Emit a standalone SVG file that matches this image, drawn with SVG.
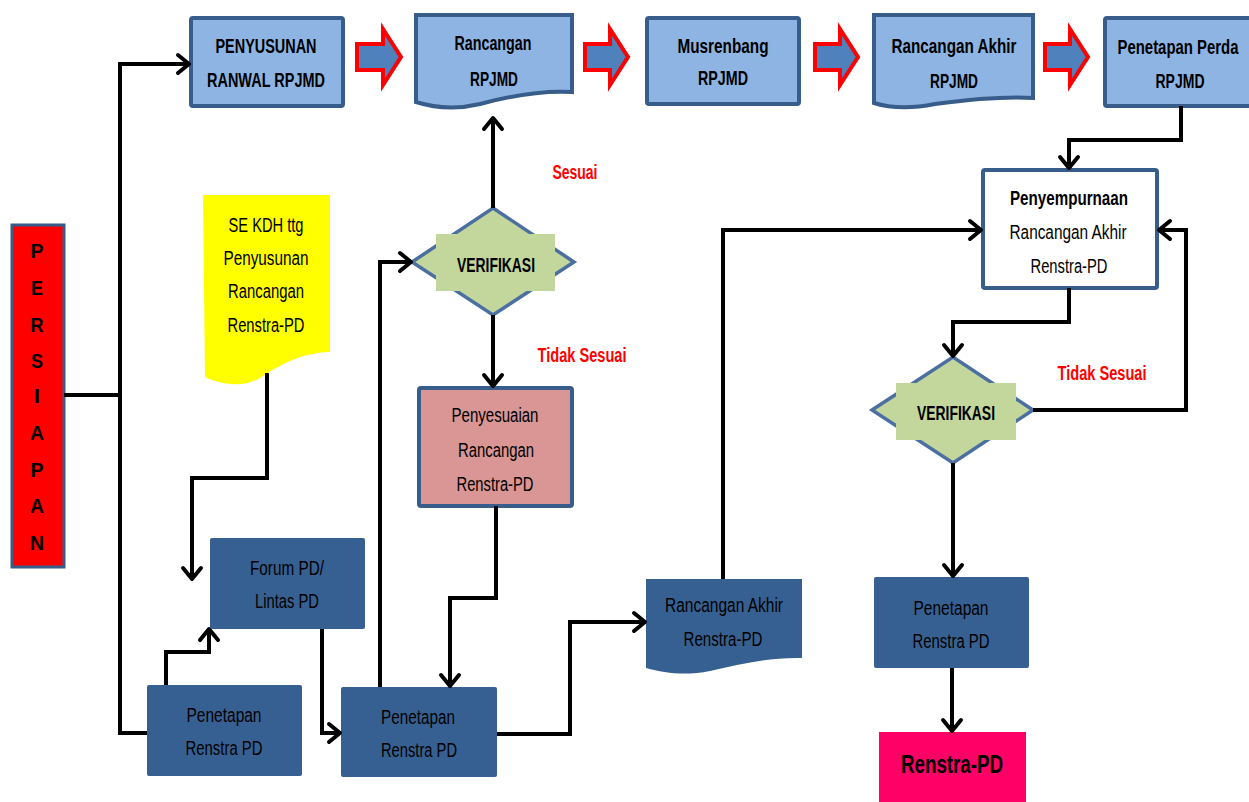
<svg xmlns="http://www.w3.org/2000/svg" width="1249" height="802" viewBox="0 0 1249 802">
<defs>
<style>
text{font-family:"Liberation Sans",Arial,sans-serif;text-anchor:middle;fill:#000}
.t{font-size:20px}
.b{font-weight:bold}
.red{fill:#FF0000;font-weight:bold;font-size:20px}
.lb{fill:#8EB4E3;stroke:#385D8A;stroke-width:4}
.db{fill:#376092}
.blk{fill:#4F81BD;stroke:#FF0000;stroke-width:4}
.dia{fill:#C3D69B;stroke:#4A6FA0;stroke-width:3.5}
.con{fill:none;stroke:#000;stroke-width:4}
</style>
<marker id="ah" markerUnits="userSpaceOnUse" viewBox="-16 -14 20 28" markerWidth="20" markerHeight="28" refX="0" refY="0" orient="auto">
<path d="M-11,-9 L0,0 L-11,9" fill="none" stroke="#000" stroke-width="4" stroke-linejoin="round" stroke-linecap="round"/>
</marker>
</defs>
<rect width="1249" height="802" fill="#fff"/>

<g id="persiapan">
<rect x="12" y="225" width="52" height="342" fill="#FF0000" stroke="#385D8A" stroke-width="3"/>
<g class="b" style="font-size:21px">
<text x="37" y="258" textLength="13" lengthAdjust="spacingAndGlyphs">P</text><text x="37" y="295" textLength="12" lengthAdjust="spacingAndGlyphs">E</text><text x="37" y="332" textLength="13" lengthAdjust="spacingAndGlyphs">R</text><text x="37" y="368" textLength="12" lengthAdjust="spacingAndGlyphs">S</text><text x="37" y="403">I</text><text x="37" y="440" textLength="14" lengthAdjust="spacingAndGlyphs">A</text><text x="37" y="477" textLength="13" lengthAdjust="spacingAndGlyphs">P</text><text x="37" y="513" textLength="14" lengthAdjust="spacingAndGlyphs">A</text><text x="37" y="550" textLength="14" lengthAdjust="spacingAndGlyphs">N</text>
</g>
</g>

<g id="penyusunan-ranwal">
<rect class="lb" x="191" y="18" width="152" height="88" rx="2"/>
<text class="t b" x="266" y="53" textLength="101" lengthAdjust="spacingAndGlyphs">PENYUSUNAN</text>
<text class="t b" x="266" y="87" textLength="118" lengthAdjust="spacingAndGlyphs">RANWAL RPJMD</text>
</g>

<g id="rancangan-rpjmd">
<path class="lb" d="M416,15 H572 V92 C540,90 510,96 480,104 C455,110 435,108 416,102 Z"/>
<text class="t b" x="493" y="50" textLength="77" lengthAdjust="spacingAndGlyphs">Rancangan</text>
<text class="t b" x="494" y="86" textLength="48" lengthAdjust="spacingAndGlyphs">RPJMD</text>
</g>

<g id="musrenbang">
<rect class="lb" x="647" y="18" width="152" height="86" rx="2"/>
<text class="t b" x="723" y="53" textLength="91" lengthAdjust="spacingAndGlyphs">Musrenbang</text>
<text class="t b" x="723" y="85" textLength="50" lengthAdjust="spacingAndGlyphs">RPJMD</text>
</g>

<g id="rancangan-akhir-rpjmd">
<path class="lb" d="M874,15 H1033 V98 C1000,96 965,100 935,104 C910,109 890,108 874,103 Z"/>
<text class="t b" x="954" y="53" textLength="125" lengthAdjust="spacingAndGlyphs">Rancangan  Akhir</text>
<text class="t b" x="954" y="88" textLength="48" lengthAdjust="spacingAndGlyphs">RPJMD</text>
</g>

<g id="penetapan-perda">
<rect class="lb" x="1105" y="18" width="160" height="88" rx="2"/>
<text class="t b" x="1178" y="54" textLength="121" lengthAdjust="spacingAndGlyphs">Penetapan Perda</text>
<text class="t b" x="1180" y="88" textLength="49" lengthAdjust="spacingAndGlyphs">RPJMD</text>
</g>

<g id="block-arrows">
<path class="blk" d="M357,44 H383 V29 L401,57 L383,85 V70 H357 Z"/>
<path class="blk" d="M585,44 H610 V29 L628,57 L610,85 V70 H585 Z"/>
<path class="blk" d="M815,44 H840 V29 L858,57 L840,85 V70 H815 Z"/>
<path class="blk" d="M1045,44 H1070 V29 L1088,57 L1070,85 V70 H1045 Z"/>
</g>

<g id="se-kdh">
<path d="M203,195 H330 V352 C300,353 280,365 260,378 C245,387 225,386 205,377 Z" fill="#FFFF00"/>
<text class="t" x="266" y="232" textLength="75" lengthAdjust="spacingAndGlyphs">SE KDH ttg</text>
<text class="t" x="266" y="265" textLength="85" lengthAdjust="spacingAndGlyphs">Penyusunan</text>
<text class="t" x="266" y="298" textLength="76" lengthAdjust="spacingAndGlyphs">Rancangan</text>
<text class="t" x="266" y="332" textLength="77" lengthAdjust="spacingAndGlyphs">Renstra-PD</text>
</g>

<g id="verifikasi-1">
<path class="dia" d="M412,262 L493,208 L574,262 L493,315 Z"/>
<rect x="436" y="234" width="119" height="57" fill="#C3D69B"/>
<text class="t b" x="496" y="272" textLength="78" lengthAdjust="spacingAndGlyphs">VERIFIKASI</text>
</g>

<g id="penyesuaian">
<rect x="419" y="388" width="153" height="118" fill="#D99694" stroke="#385D8A" stroke-width="4" rx="2"/>
<text class="t" x="495" y="422" textLength="87" lengthAdjust="spacingAndGlyphs">Penyesuaian</text>
<text class="t" x="496" y="457" textLength="76" lengthAdjust="spacingAndGlyphs">Rancangan</text>
<text class="t" x="495" y="491" textLength="77" lengthAdjust="spacingAndGlyphs">Renstra-PD</text>
</g>

<g id="forum-pd">
<rect class="db" x="210" y="538" width="155" height="91" rx="2"/>
<text class="t" x="287" y="575" textLength="74" lengthAdjust="spacingAndGlyphs">Forum PD/</text>
<text class="t" x="287" y="608" textLength="64" lengthAdjust="spacingAndGlyphs">Lintas PD</text>
</g>

<g id="penetapan-renstra-1">
<rect class="db" x="147" y="685" width="155" height="91" rx="2"/>
<text class="t" x="224" y="722" textLength="75" lengthAdjust="spacingAndGlyphs">Penetapan</text>
<text class="t" x="224" y="755" textLength="77" lengthAdjust="spacingAndGlyphs">Renstra PD</text>
</g>

<g id="penetapan-renstra-2">
<rect class="db" x="341" y="687" width="156" height="90" rx="2"/>
<text class="t" x="418" y="724" textLength="74" lengthAdjust="spacingAndGlyphs">Penetapan</text>
<text class="t" x="419" y="757" textLength="76" lengthAdjust="spacingAndGlyphs">Renstra PD</text>
</g>

<g id="rancangan-akhir-renstra">
<path class="db" d="M646,579 H802 V658 C770,657 740,664 710,671 C685,676 665,673 646,668 Z"/>
<text class="t" x="724" y="612" textLength="118" lengthAdjust="spacingAndGlyphs">Rancangan Akhir</text>
<text class="t" x="723" y="646" textLength="79" lengthAdjust="spacingAndGlyphs">Renstra-PD</text>
</g>

<g id="penyempurnaan">
<rect x="983" y="170" width="174" height="118" fill="#fff" stroke="#385D8A" stroke-width="4" rx="2"/>
<text class="t b" x="1069" y="205" textLength="118" lengthAdjust="spacingAndGlyphs">Penyempurnaan</text>
<text class="t" x="1068" y="239" textLength="117" lengthAdjust="spacingAndGlyphs">Rancangan Akhir</text>
<text class="t" x="1069" y="273" textLength="77" lengthAdjust="spacingAndGlyphs">Renstra-PD</text>
</g>

<g id="verifikasi-2">
<path class="dia" d="M872,410 L953,357 L1033,410 L953,463 Z"/>
<rect x="896" y="383" width="120" height="57" fill="#C3D69B"/>
<text class="t b" x="956" y="420" textLength="78" lengthAdjust="spacingAndGlyphs">VERIFIKASI</text>
</g>

<g id="penetapan-renstra-3">
<rect class="db" x="874" y="577" width="155" height="91" rx="2"/>
<text class="t" x="951" y="615" textLength="75" lengthAdjust="spacingAndGlyphs">Penetapan</text>
<text class="t" x="951" y="648" textLength="77" lengthAdjust="spacingAndGlyphs">Renstra PD</text>
</g>

<g id="renstra-pd">
<rect x="879" y="732" width="147" height="80" fill="#FF0066"/>
<text class="b" style="font-size:25px" x="952" y="773" textLength="102" lengthAdjust="spacingAndGlyphs">Renstra-PD</text>
</g>

<g id="labels">
<text class="red" x="575" y="179" textLength="45" lengthAdjust="spacingAndGlyphs">Sesuai</text>
<text class="red" x="582" y="362" textLength="89" lengthAdjust="spacingAndGlyphs">Tidak Sesuai</text>
<text class="red" x="1102" y="380" textLength="89" lengthAdjust="spacingAndGlyphs">Tidak Sesuai</text>
</g>

<g id="connectors">
<path class="con" d="M64,395 H120"/>
<path class="con" d="M147,733 H120 V64 H189" marker-end="url(#ah)"/>
<path class="con" d="M267,373 V478 H192 V579" marker-end="url(#ah)"/>
<path class="con" d="M166,685 V652 H209 V629" marker-end="url(#ah)"/>
<path class="con" d="M322,629 V733 H340" marker-end="url(#ah)"/>
<path class="con" d="M380,687 V262 H411" marker-end="url(#ah)"/>
<path class="con" d="M493,208 V118" marker-end="url(#ah)"/>
<path class="con" d="M493,315 V386" marker-end="url(#ah)"/>
<path class="con" d="M496,506 V598 H450 V686" marker-end="url(#ah)"/>
<path class="con" d="M497,734 H570 V622 H645" marker-end="url(#ah)"/>
<path class="con" d="M723,579 V230 H981" marker-end="url(#ah)"/>
<path class="con" d="M1181,106 V140 H1069 V168" marker-end="url(#ah)"/>
<path class="con" d="M1069,288 V322 H953 V356" marker-end="url(#ah)"/>
<path class="con" d="M1033,410 H1186 V230 H1159" marker-end="url(#ah)"/>
<path class="con" d="M953,463 V576" marker-end="url(#ah)"/>
<path class="con" d="M952,668 V731" marker-end="url(#ah)"/>
</g>
</svg>
